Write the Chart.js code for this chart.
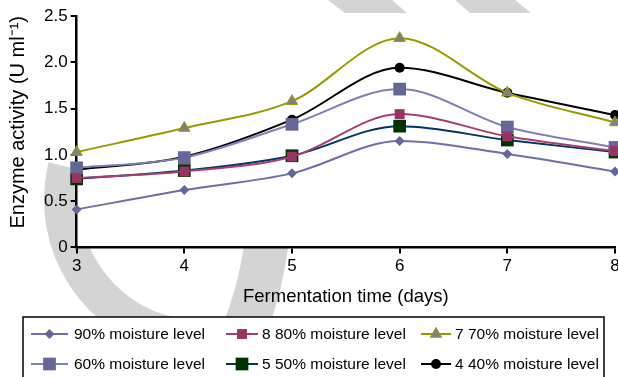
<!DOCTYPE html>
<html>
<head>
<meta charset="utf-8">
<script src="https://cdn.jsdelivr.net/npm/chart.js"></script>
<style>
  html, body { margin: 0; padding: 0; background: #fff; }
  #wrap { width: 618px; height: 377px; overflow: hidden; }
</style>
</head>
<body>
<div id="wrap"><canvas id="enzyme-chart" width="640" height="377"></canvas></div>
<script>
// fermentation days on the x axis
var days = ['3', '4', '5', '6', '7', '8'];

// enzyme activity (U ml-1) per moisture level
var moisture90 = [0.41, 0.62, 0.80, 1.15, 1.01, 0.82];
var moisture80 = [0.75, 0.82, 0.98, 1.44, 1.20, 1.04];
var moisture70 = [1.03, 1.29, 1.58, 2.26, 1.67, 1.35];
var moisture60 = [0.86, 0.97, 1.33, 1.71, 1.30, 1.08];
var moisture50 = [0.74, 0.83, 0.99, 1.31, 1.16, 1.03];
var moisture40 = [0.84, 0.98, 1.38, 1.94, 1.67, 1.43];

var seriesLabels = ['90% moisture level', '8 80% moisture level', '7 70% moisture level',
                    '60% moisture level', '5 50% moisture level', '4 40% moisture level'];

var FONT = "'Liberation Sans', Arial, sans-serif";

function series(label, data, line, fill, style, radius, border) {
    return {
        label: label,
        data: data,
        borderColor: line,
        borderWidth: 2,
        backgroundColor: fill,
        pointBackgroundColor: fill,
        pointBorderColor: border || fill,
        pointBorderWidth: border ? 1 : 0,
        pointStyle: style,
        pointRadius: radius,
        pointHoverRadius: radius,
        cubicInterpolationMode: 'monotone',
        fill: false,
        clip: false
    };
}

// grey watermark behind the figure, plot area kept white
var backdrop = {
    id: 'backdrop',
    beforeDraw: function (chart) {
        var ctx = chart.ctx, a = chart.chartArea;
        ctx.save();
        ctx.fillStyle = '#fff';
        ctx.fillRect(0, 0, chart.width, chart.height);
        ctx.strokeStyle = '#d4d4d4';
        ctx.fillStyle = '#d4d4d4';
        ctx.lineWidth = 36;
        ctx.beginPath();
        ctx.arc(200, 200, 138, 102 * Math.PI / 180, 194 * Math.PI / 180);
        ctx.stroke();
        ctx.lineWidth = 44;
        ctx.beginPath();
        ctx.moveTo(268, 230);
        ctx.quadraticCurveTo(262, 290, 240, 340);
        ctx.stroke();
        ctx.beginPath();
        ctx.moveTo(328, 0); ctx.lineTo(392, 0); ctx.lineTo(407, 13); ctx.lineTo(345, 13);
        ctx.closePath(); ctx.fill();
        ctx.beginPath();
        ctx.moveTo(455, 0); ctx.lineTo(515, 0); ctx.lineTo(531, 13); ctx.lineTo(470, 13);
        ctx.closePath(); ctx.fill();
        ctx.fillStyle = '#fff';
        ctx.fillRect(a.left, a.top, a.right - a.left, a.bottom - a.top);
        ctx.restore();
    }
};

function marker(ctx, ds, x, y) {
    ctx.fillStyle = ds.pointBackgroundColor;
    ctx.strokeStyle = ds.pointBorderColor;
    ctx.lineWidth = ds.pointBorderWidth;
    var opts = { pointStyle: ds.pointStyle, radius: ds.pointRadius, rotation: 0, borderWidth: ds.pointBorderWidth };
    if (Chart.helpers && Chart.helpers.drawPoint) {
        Chart.helpers.drawPoint(ctx, opts, x, y);
        return;
    }
    var r = ds.pointRadius;
    ctx.beginPath();
    if (ds.pointStyle === 'circle') ctx.arc(x, y, r, 0, Math.PI * 2);
    else if (ds.pointStyle === 'rect') ctx.rect(x - r * 0.707, y - r * 0.707, r * 1.414, r * 1.414);
    else if (ds.pointStyle === 'rectRot') { ctx.moveTo(x, y - r); ctx.lineTo(x + r, y); ctx.lineTo(x, y + r); ctx.lineTo(x - r, y); ctx.closePath(); }
    else { ctx.moveTo(x, y - r); ctx.lineTo(x + r * 0.866, y + r * 0.5); ctx.lineTo(x - r * 0.866, y + r * 0.5); ctx.closePath(); }
    ctx.fill();
    if (ds.pointBorderWidth) ctx.stroke();
}

// boxed legend, three columns by two rows
var boxLegend = {
    id: 'boxLegend',
    afterDraw: function (chart) {
        var ctx = chart.ctx;
        var lineX = [31, 226, 421], lineW = [37, 32, 30], textX = [74, 262, 455], rowY = [334, 364];
        ctx.save();
        ctx.fillStyle = '#fff';
        ctx.fillRect(23, 317, 581, 70);
        ctx.strokeStyle = '#000';
        ctx.lineWidth = 1.5;
        ctx.strokeRect(23, 317, 581, 70);
        ctx.font = '15.5px ' + FONT;
        ctx.textBaseline = 'middle';
        chart.data.datasets.forEach(function (ds, i) {
            var c = i % 3, y = rowY[Math.floor(i / 3)];
            ctx.strokeStyle = ds.borderColor;
            ctx.lineWidth = 2;
            ctx.beginPath();
            ctx.moveTo(lineX[c], y);
            ctx.lineTo(lineX[c] + lineW[c], y);
            ctx.stroke();
            marker(ctx, ds, lineX[c] + lineW[c] / 2, y);
            ctx.fillStyle = '#000';
            ctx.fillText(ds.label, textX[c], y + 1);
        });
        ctx.restore();
    }
};

new Chart(document.getElementById('enzyme-chart').getContext('2d'), {
    type: 'line',
    data: {
        labels: days,
        datasets: [
            series(seriesLabels[0], moisture90, '#6e6eaa', '#666699', 'rectRot', 5),
            series(seriesLabels[1], moisture80, '#a3406f', '#993366', 'rect', 7),
            series(seriesLabels[2], moisture70, '#999900', '#808080', 'triangle', 6.5, '#999900'),
            series(seriesLabels[3], moisture60, '#8080b8', '#666699', 'rect', 9),
            series(seriesLabels[4], moisture50, '#003366', '#003300', 'rect', 9),
            series(seriesLabels[5], moisture40, '#000000', '#000000', 'circle', 5)
        ]
    },
    options: {
        responsive: false,
        animation: false,
        events: [],
        layout: { padding: { left: 6, right: 25, top: 16, bottom: 69 } },
        plugins: {
            legend: { display: false },
            tooltip: { enabled: false }
        },
        scales: {
            x: {
                offset: false,
                grid: { drawOnChartArea: false, drawTicks: true, tickLength: 6, color: '#000', lineWidth: 2 },
                border: { display: true, color: '#000', width: 2.5 },
                ticks: { color: '#000', font: { family: FONT, size: 17 }, padding: 3, maxRotation: 0 },
                title: {
                    display: true,
                    text: 'Fermentation time (days)',
                    color: '#000',
                    font: { family: FONT, size: 18.5 },
                    padding: { top: 6, bottom: 0 }
                }
            },
            y: {
                min: 0,
                max: 2.5,
                grid: { drawOnChartArea: false, drawTicks: true, tickLength: 6, color: '#000', lineWidth: 2 },
                border: { display: true, color: '#000', width: 2.5 },
                ticks: {
                    stepSize: 0.5,
                    color: '#000',
                    padding: 3,
                    font: { family: FONT, size: 17 },
                    callback: function (v) { return v === 0 ? '0' : v.toFixed(1); }
                },
                title: {
                    display: true,
                    text: 'Enzyme activity (U ml\u207B\u00B9)',
                    align: 'end',
                    color: '#000',
                    font: { family: FONT, size: 20 },
                    padding: { top: 0, bottom: 11 }
                }
            }
        }
    },
    plugins: [backdrop, boxLegend]
});
</script>
</body>
</html>
